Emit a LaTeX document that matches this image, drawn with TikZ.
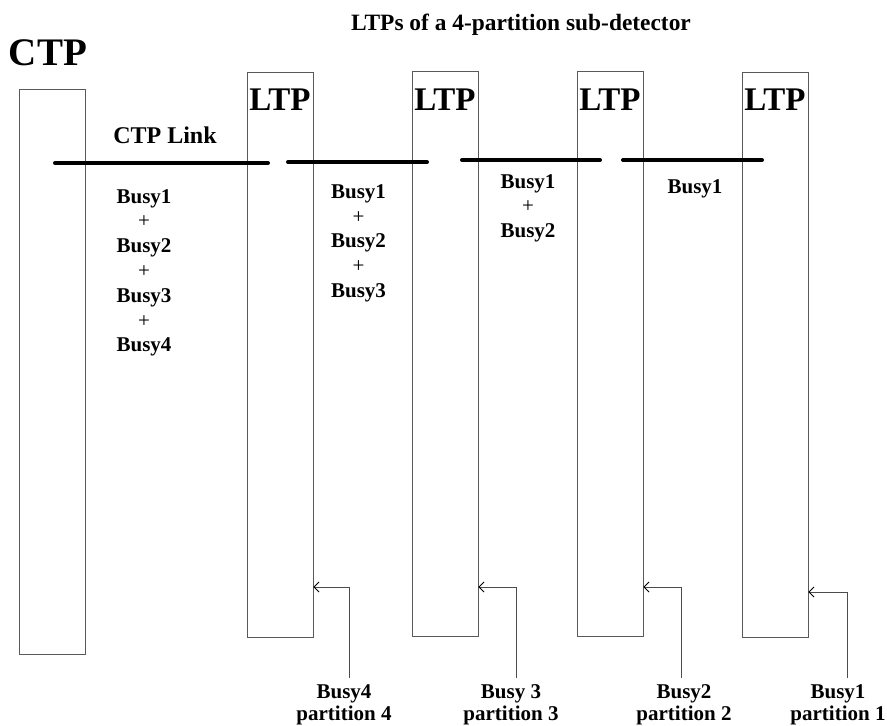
\documentclass[tikz,border=0pt]{standalone}
\usepackage{fontspec}
\setmainfont{Liberation Serif}
\usetikzlibrary{arrows.meta}
\begin{document}
\begin{tikzpicture}[x=1pt,y=-1pt,
  box/.style={draw=black!65, line width=0.9pt, inner sep=0pt, minimum width=66pt, minimum height=565pt},
  link/.style={line width=4pt, line cap=round},
  busy/.style={font=\bfseries\fontsize{21}{24.8}\selectfont, align=center, inner sep=0pt, anchor=base},
  part/.style={font=\bfseries\fontsize{21}{22}\selectfont, align=center, inner sep=0pt, anchor=base},
  big/.style={font=\bfseries\fontsize{#1}{#1}\selectfont, inner sep=0pt, anchor=base},
  arr/.style={draw=black!70, line width=0.9pt, -{Straight Barb[length=5pt,width=10pt,line width=0.9pt,black]}}
]
\useasboundingbox (0,0) rectangle (887,726);
% boxes
\node[box] (ctp) at (52,371.5) {};
\node[box] (ltp1) at (280,354.5) {};
\node[box] (ltp2) at (445,353.5) {};
\node[box] (ltp3) at (610,353.5) {};
\node[box] (ltp4) at (775,354.5) {};
% headings
\node[big=39] (ctpt) at (48,65) {CTP};
\node[big=23.4] (title) at (521,30) {LTPs of a 4-partition sub-detector};
\node[big=33] (l1) at (280,110) {LTP};
\node[big=33] (l2) at (445,110) {LTP};
\node[big=33] (l3) at (610,110) {LTP};
\node[big=33] (l4) at (775,110) {LTP};
\node[big=24] (ctplink) at (165,143) {CTP Link};
% links
\draw[link] (55,163) -- (268,163);
\draw[link] (288,162) -- (427,162);
\draw[link] (462,160) -- (600,160);
\draw[link] (623,160) -- (762,160);
% busy sums (anchor base = last line's baseline)
\node[busy] (s1) at (144,351.8) {Busy1\\\mdseries+\\Busy2\\\mdseries+\\Busy3\\\mdseries+\\Busy4};
\node[busy] (s2) at (358.5,297.5) {Busy1\\\mdseries+\\Busy2\\\mdseries+\\Busy3};
\node[busy] (s3) at (528,237.6) {Busy1\\\mdseries+\\Busy2};
\node[busy] (s4) at (695,193) {Busy1};
% bottom labels
\node[part] (b4) at (344,720) {Busy4\\partition 4};
\node[part] (b3) at (511,720) {Busy 3\\partition 3};
\node[part] (b2) at (684,720) {Busy2\\partition 2};
\node[part] (b1) at (838,720) {Busy1\\partition 1};
% arrows
\coordinate (a4) at (349,678); \coordinate (c4) at (349,587);
\coordinate (a3) at (516,678); \coordinate (c3) at (516,587);
\coordinate (a2) at (681,678); \coordinate (c2) at (681,587);
\coordinate (a1) at (847,678); \coordinate (c1) at (847,592);
\draw[arr] (a4) -- (c4) -- (ltp1.east |- c4);
\draw[arr] (a3) -- (c3) -- (ltp2.east |- c3);
\draw[arr] (a2) -- (c2) -- (ltp3.east |- c2);
\draw[arr] (a1) -- (c1) -- (ltp4.east |- c1);
\end{tikzpicture}
\end{document}
